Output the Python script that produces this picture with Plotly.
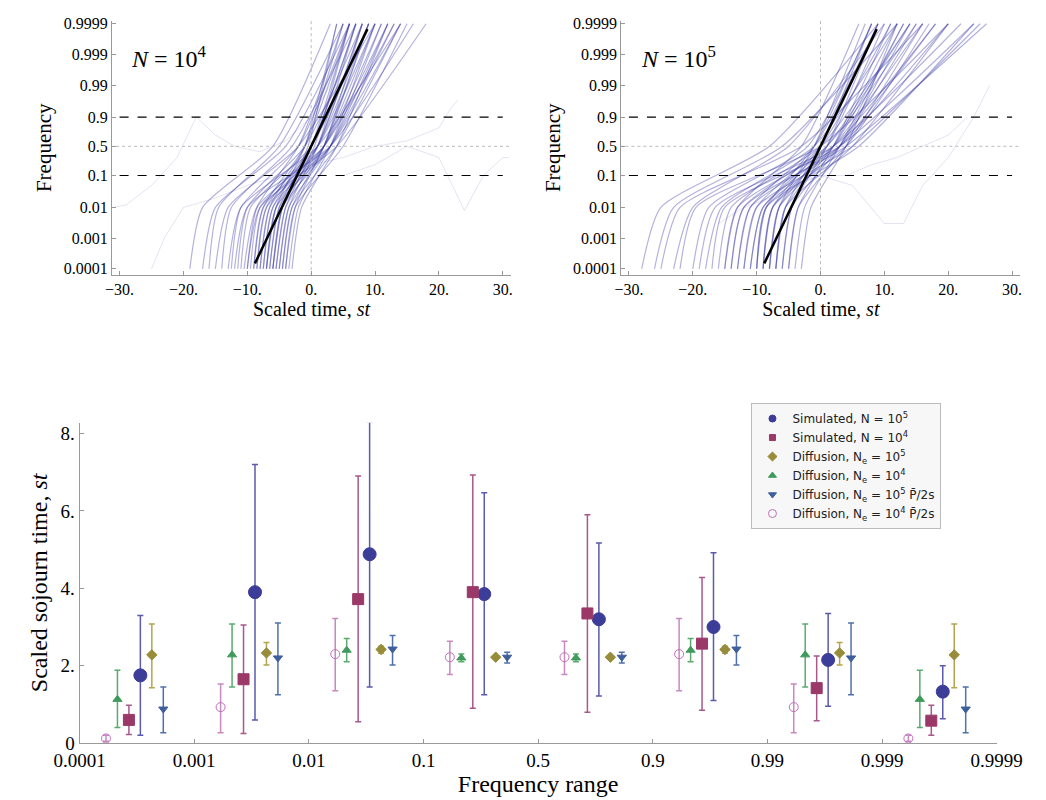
import math
import plotly.graph_objects as go

# ---------------- data ----------------
freq_ticks = [0.0001, 0.001, 0.01, 0.1, 0.5, 0.9, 0.99, 0.999, 0.9999]
freq_tick_labels = ["0.0001", "0.001", "0.01", "0.1", "0.5", "0.9", "0.99", "0.999", "0.9999"]
time_ticks = [-30, -20, -10, 0, 10, 20, 30]
time_tick_labels = ["\u221230.", "\u221220.", "\u221210.", "0.", "10.", "20.", "30."]

# trajectories: time at p=0.0001, p=0.01, p=0.5, p=0.9999
n4_start = [-19,-17,-16,-15,-14,-13,-12.5,-12,-11.5,-11,-10.5,-10,-10,-9.5,-9,-9,-8.5,-8.5,-8,-8,-7.5,-7.5,-7,-7,-7,-6.5,-6.5,-6,-6,-6,-5.5,-5.5,-5,-5,-4.5,-4.5,-4,-4,-3.5,-3]
n4_q01 = [-17,-15,-14.5,-13,-12.5,-11,-11,-10,-10,-9.5,-8.5,-8.5,-8,-8,-7.5,-7.5,-7,-7,-6.5,-6.5,-6,-6,-5.5,-5.5,-5.5,-5,-5,-4.5,-4.5,-4.5,-4,-4,-3.5,-3.5,-3,-3,-2.5,-2.5,-2,-1.5]
n4_mid = [-6,-4,-5,-2,-3,1,-2,3,-1,0,2,-2,4,1,-1,2,0,3,-1,1,0,2,-1,1,3,0,2,-0.5,1,3,0.5,2,1,3,2,4,2,5,3,4]
n4_end = [3,6,5,10,7,14,6,16,8,9,13,5,18,10,6,12,7,14,5,9,7,11,4,8,13,6,10,4,8,12,6,9,7,11,8,14,9,15,10,12]
n4_wander_t = [[-31,-29,-25,-21,-18,-15,-12,-8,-4,0,3,6],
               [5,10,15,20,24,27,30,31],
               [-25,-23,-20,-15,-10,-5,0,5,10,15,20,22,23]]
n4_wander_p = [[0.01,0.012,0.05,0.3,0.9,0.7,0.5,0.4,0.6,0.9,0.99,0.9999],
               [0.1,0.2,0.5,0.3,0.008,0.1,0.3,0.3],
               [0.0001,0.001,0.01,0.02,0.05,0.1,0.2,0.3,0.5,0.6,0.8,0.95,0.97]]

n5_start = [-28,-26,-25,-23,-22,-20,-19,-18,-17,-16,-15,-15,-14,-14,-13,-13,-12,-12,-11,-11,-10,-10,-10,-9,-9,-9,-8,-8,-8,-7,-7,-7,-6,-6,-5,-5,-4,-3]
n5_q01 = [-25,-23,-22,-20,-19.5,-17.5,-16.5,-15.5,-15,-14,-13,-13,-12,-12,-11,-11,-10,-10,-9,-9,-8.5,-8.5,-8.5,-7.5,-7.5,-7.5,-6.5,-6.5,-6.5,-5.5,-5.5,-5.5,-4.5,-4.5,-3.5,-3.5,-2.5,-1.5]
n5_mid = [-8,-6,-3,-5,0,-2,2,-1,3,0,-3,2,1,4,-1,3,0,5,1,2,-1,3,6,0,2,4,-1,1,3,0,2,5,1,3,2,4,3,4]
n5_end = [9,12,16,10,20,8,22,12,24,14,6,18,15,26,9,20,11,25,14,16,8,18,24,9,13,17,7,10,15,8,12,20,9,14,11,16,13,12]
n5_wander_t = [[-5,0,5,10,13,16,20,24,26.5],
               [-16,-12,-8,-4,0,4,8,12,16,20,23]]
n5_wander_p = [[0.05,0.1,0.05,0.003,0.003,0.05,0.3,0.9,0.99],
               [0.003,0.01,0.02,0.05,0.1,0.1,0.2,0.3,0.5,0.7,0.9]]

ranges = ["0.0001", "0.001", "0.01", "0.1", "0.5", "0.9", "0.99", "0.999", "0.9999"]
sim5 = [1.75, 3.9, 4.88, 3.85, 3.2, 3.0, 2.15, 1.33]
sim5_lo = [0.2, 0.6, 1.45, 1.25, 1.22, 1.1, 0.95, 0.63]
sim5_hi = [3.3, 7.2, 8.3, 6.47, 5.17, 4.92, 3.35, 2.0]
sim4 = [0.6, 1.65, 3.72, 3.9, 3.35, 2.57, 1.42, 0.58]
sim4_lo = [0.22, 0.25, 0.55, 0.9, 0.8, 0.85, 0.58, 0.2]
sim4_hi = [0.98, 3.05, 6.9, 6.93, 5.9, 4.28, 2.25, 0.98]
dif5 = [2.28, 2.33, 2.42, 2.22, 2.22, 2.42, 2.33, 2.28]
dif5_lo = [1.43, 2.02, 2.32, 2.18, 2.18, 2.32, 2.02, 1.43]
dif5_hi = [3.08, 2.6, 2.5, 2.26, 2.26, 2.5, 2.6, 3.08]
dif4 = [1.13, 2.28, 2.4, 2.2, 2.2, 2.4, 2.28, 1.13]
dif4_lo = [0.4, 1.45, 2.1, 2.1, 2.1, 2.1, 1.45, 0.4]
dif4_hi = [1.88, 3.08, 2.7, 2.3, 2.3, 2.7, 3.08, 1.88]
dif5p = [0.88, 2.2, 2.43, 2.22, 2.22, 2.43, 2.2, 0.88]
dif5p_lo = [0.27, 1.25, 2.02, 2.07, 2.07, 2.02, 1.25, 0.27]
dif5p_hi = [1.45, 3.1, 2.78, 2.35, 2.35, 2.78, 3.1, 1.45]
dif4p = [0.12, 0.93, 2.3, 2.22, 2.22, 2.3, 0.93, 0.12]
dif4p_lo = [0.05, 0.27, 1.35, 1.77, 1.77, 1.35, 0.27, 0.05]
dif4p_hi = [0.2, 1.53, 3.22, 2.63, 2.63, 3.22, 1.53, 0.2]

# ---------------- helpers ----------------
def logit(p):
    return math.log(p / (1 - p))

W, H = 1046, 800
def px(x): return x / W
def py(y): return 1 - y / H

SERIF = "Liberation Serif"
TRAJ = "rgba(55,55,165,0.38)"
TRAJ_W = "rgba(55,55,165,0.14)"
fig = go.Figure()

Ylo, Yhi = logit(0.0001), logit(0.9999)
Yq = logit(0.01)

def add_panel(xa, ya, starts, q01, mids, ends, wt, wp):
    for s, q, m, e in zip(starts, q01, mids, ends):
        fig.add_trace(go.Scatter(x=[s, q, m, e], y=[Ylo, Yq, 0, Yhi], mode="lines",
                                 line=dict(color=TRAJ, width=1.2, shape="spline", smoothing=0.6),
                                 xaxis=xa, yaxis=ya, showlegend=False, hoverinfo="skip"))
    for t, p in zip(wt, wp):
        fig.add_trace(go.Scatter(x=t, y=[logit(v) for v in p], mode="lines",
                                 line=dict(color=TRAJ_W, width=1),
                                 xaxis=xa, yaxis=ya, showlegend=False, hoverinfo="skip"))
    for f in (0.1, 0.9):
        fig.add_trace(go.Scatter(x=[-30, 30], y=[logit(f)] * 2, mode="lines",
                                 line=dict(color="black", width=1.2, dash="dash"),
                                 xaxis=xa, yaxis=ya, showlegend=False, hoverinfo="skip"))
    fig.add_trace(go.Scatter(x=[-31.5, 31.5], y=[0, 0], mode="lines",
                             line=dict(color="#bbbbbb", width=1, dash="dot"),
                             xaxis=xa, yaxis=ya, showlegend=False, hoverinfo="skip"))
    fig.add_trace(go.Scatter(x=[0, 0], y=[Ylo - 1, Yhi + 1], mode="lines",
                             line=dict(color="#bbbbbb", width=1, dash="dot"),
                             xaxis=xa, yaxis=ya, showlegend=False, hoverinfo="skip"))
    fig.add_trace(go.Scatter(x=[logit(0.00015), logit(0.99985)],
                             y=[logit(0.00015), logit(0.99985)], mode="lines",
                             line=dict(color="black", width=2.5),
                             xaxis=xa, yaxis=ya, showlegend=False, hoverinfo="skip"))

add_panel("x", "y", n4_start, n4_q01, n4_mid, n4_end, n4_wander_t, n4_wander_p)
add_panel("x2", "y2", n5_start, n5_q01, n5_mid, n5_end, n5_wander_t, n5_wander_p)

# bottom panel
series = [
    ("Simulated, N = 10<sup>5</sup>", sim5, sim5_lo, sim5_hi, 0.53, "circle", 13, 7, "#3c3c99", "#5a5aae"),
    ("Simulated, N = 10<sup>4</sup>", sim4, sim4_lo, sim4_hi, 0.43, "square", 11, 6, "#9a3868", "#a8588a"),
    ("Diffusion, N<sub>e</sub> = 10<sup>5</sup>", dif5, dif5_lo, dif5_hi, 0.63, "diamond", 8, 7, "#978c3a", "#b3a54e"),
    ("Diffusion, N<sub>e</sub> = 10<sup>4</sup>", dif4, dif4_lo, dif4_hi, 0.33, "triangle-up", 8, 7, "#3f9a5c", "#5aaa70"),
    ("Diffusion, N<sub>e</sub> = 10<sup>5</sup> P\u0304/2s", dif5p, dif5p_lo, dif5p_hi, 0.73, "triangle-down", 8, 7, "#3e5f9c", "#5070aa"),
    ("Diffusion, N<sub>e</sub> = 10<sup>4</sup> P\u0304/2s", dif4p, dif4p_lo, dif4p_hi, 0.23, "circle-open", 9, 8, "#c070b8", "#c888c0"),
]
for name, v, lo, hi, off, sym, size, lsize, col, ecol in series:
    fig.add_trace(go.Scatter(
        x=[i + off for i in range(len(v))], y=v, mode="markers", showlegend=False,
        marker=dict(symbol=sym, size=size, color=col, line=dict(width=1, color=col)),
        error_y=dict(type="data", symmetric=False,
                     array=[h - m for h, m in zip(hi, v)],
                     arrayminus=[m - l for m, l in zip(v, lo)],
                     color=ecol, thickness=1.5, width=3),
        xaxis="x3", yaxis="y3"))
    fig.add_trace(go.Scatter(x=[None], y=[None], mode="markers", name=name,
                             marker=dict(symbol=sym, size=lsize, color=col, line=dict(width=1, color=col)),
                             xaxis="x3", yaxis="y3"))

# ---------------- layout ----------------
tv_f = [logit(f) for f in freq_ticks]
axfont = dict(family=SERIF, size=16, color="black")
def top_x(dom):
    return dict(domain=dom, range=[-31.2, 31.3], tickvals=time_ticks, ticktext=time_tick_labels,
                showgrid=False, zeroline=False, showline=True, linecolor="#999999",
                ticks="inside", ticklen=4, tickcolor="#999999", tickfont=axfont,
                title=dict(text="Scaled time, <i>st</i>", font=dict(family=SERIF, size=20, color="black"), standoff=4))
def top_y(anchor):
    return dict(domain=[py(267), py(8)], range=[Ylo - 0.44, Yhi + 0.22], tickvals=tv_f,
                ticktext=freq_tick_labels, anchor=anchor,
                showgrid=False, zeroline=False, showline=True, linecolor="#999999",
                ticks="inside", ticklen=4, tickcolor="#999999", tickfont=axfont,
                title=dict(text="Frequency", font=dict(family=SERIF, size=21, color="black"), standoff=6))

fig.update_layout(
    width=W, height=H, margin=dict(l=0, r=0, t=0, b=0),
    paper_bgcolor="white", plot_bgcolor="white",
    font=dict(family=SERIF, color="black"),
    xaxis=top_x([px(82), px(502)]), yaxis=top_y("x"),
    xaxis2=top_x([px(618), px(1038)]), yaxis2=top_y("x2"),
    xaxis3=dict(domain=[px(48), px(1013)], range=[0, 8], anchor="y3",
                tickvals=list(range(9)), ticktext=ranges, showgrid=False, zeroline=False,
                showline=True, linecolor="#999999", ticks="inside", ticklen=4, tickcolor="#999999",
                tickfont=dict(family=SERIF, size=19, color="black"),
                title=dict(text="Frequency range", font=dict(family=SERIF, size=24, color="black"), standoff=4)),
    yaxis3=dict(domain=[py(745), py(418)], range=[0, 8.28], anchor="x3",
                tickvals=[0, 2, 4, 6, 8], ticktext=["0", "2.", "4.", "6.", "8."],
                showgrid=False, zeroline=False, showline=True, linecolor="#999999",
                ticks="inside", ticklen=4, tickcolor="#999999",
                tickfont=dict(family=SERIF, size=19, color="black"),
                title=dict(text="Scaled sojourn time, <i>st</i>", font=dict(family=SERIF, size=24, color="black"), standoff=6)),
    legend=dict(x=px(755), y=py(398), xanchor="left", yanchor="top",
                bgcolor="#f7f7f7", bordercolor="#bbbbbb", borderwidth=1,
                font=dict(family="DejaVu Sans", size=12, color="#222"),
                tracegroupgap=2),
    annotations=[
        dict(x=px(100), y=py(45), xref="paper", yref="paper", xanchor="left", yanchor="middle",
             text="<i>N</i> = 10<sup>4</sup>", showarrow=False, font=dict(family=SERIF, size=24, color="black")),
        dict(x=px(637), y=py(45), xref="paper", yref="paper", xanchor="left", yanchor="middle",
             text="<i>N</i> = 10<sup>5</sup>", showarrow=False, font=dict(family=SERIF, size=24, color="black")),
    ],
)

fig.write_html("out.html")
